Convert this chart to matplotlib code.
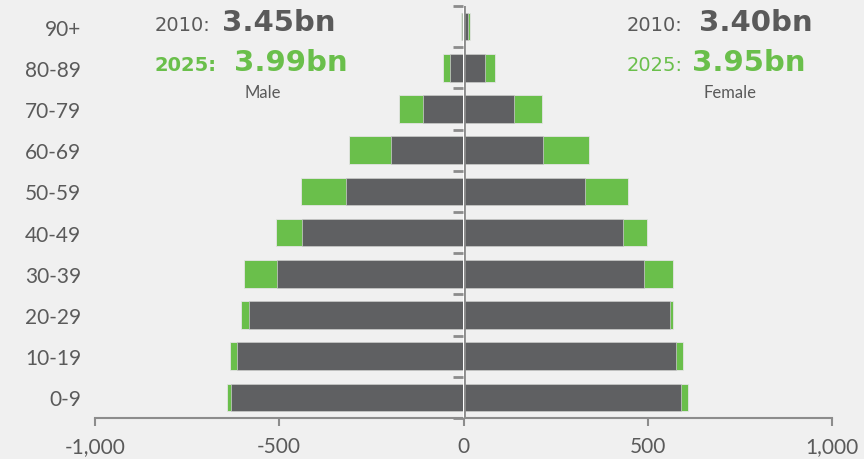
import numpy as np
import matplotlib.pyplot as plt
from matplotlib.ticker import FuncFormatter

# population by age band, millions
ages = ['0-9', '10-19', '20-29', '30-39', '40-49', '50-59', '60-69', '70-79', '80-89', '90+']
male_2010 = [630, 614, 583, 505, 438, 320, 198, 110, 36, 4]
male_2025 = [642, 634, 605, 596, 510, 442, 312, 174, 56, 8]
female_2010 = [589, 576, 561, 490, 433, 331, 217, 136, 59, 11]
female_2025 = [610, 595, 569, 568, 498, 446, 341, 212, 85, 18]
x_ticks = [-1000, -500, 0, 500, 1000]

DARK = '#5f6062'
GREEN = '#6abf4b'
GREY = '#8c8c8c'
BG = '#f0f0f0'
TXT = '#5a5a5a'

plt.rcParams['font.family'] = ['Lato', 'DejaVu Sans']

fig = plt.figure(figsize=(8.64, 4.6), dpi=100, facecolor=BG)
ax = fig.add_axes([95 / 864, 1 - 419 / 460, 737 / 864, 412 / 460])
ax.set_facecolor(BG)

y = np.arange(len(ages))
h = 0.67
ax.barh(y, -np.array(male_2025), height=h, color=GREEN, edgecolor='#e4e4e4', linewidth=0.6, zorder=2)
ax.barh(y, -np.array(male_2010), height=h, color=DARK, edgecolor='#cfcfcf', linewidth=0.5, zorder=3)
ax.barh(y, female_2025, height=h, color=GREEN, edgecolor='#e4e4e4', linewidth=0.6, zorder=2)
ax.barh(y, female_2010, height=h, color=DARK, edgecolor='#cfcfcf', linewidth=0.5, zorder=3)

ax.set_xlim(-1000, 1000)
ax.set_ylim(-0.5, len(ages) - 0.5)

ax.set_xticks(x_ticks)
ax.xaxis.set_major_formatter(FuncFormatter(lambda v, p: f'{int(v):,}'))
ax.tick_params(axis='x', colors=GREY, labelcolor=TXT, labelsize=15, length=6, width=1.5, pad=7)

ax.set_yticks(y)
ax.set_yticklabels(ages)
ax.tick_params(axis='y', length=0, labelcolor=TXT, labelsize=15, pad=10)

for s in ['top', 'right', 'left']:
    ax.spines[s].set_visible(False)
ax.spines['bottom'].set_color(GREY)
ax.spines['bottom'].set_linewidth(1.5)

# centre axis with ticks between age bands
ax.axvline(0, color=GREY, lw=2, zorder=5)
sec = ax.secondary_yaxis(0.5)
sec.set_yticks(np.arange(-0.5, len(ages), 1.0))
sec.set_yticklabels([])
sec.yaxis.set_ticks_position('left')
sec.tick_params(axis='y', direction='out', length=7, width=2, color=GREY)
sec.spines['left'].set_color(GREY)
sec.spines['left'].set_linewidth(2)
sec.spines['right'].set_visible(False)
sec.set_zorder(6)

# totals
def fx(px):
    return px / 864

def fy(px):
    return 1 - px / 460

big = dict(fontsize=21, fontweight='bold', family='DejaVu Sans', va='baseline')
small = dict(fontsize=14, family='DejaVu Sans', va='baseline')

fig.text(fx(155), fy(31), '2010:', color=TXT, **small)
fig.text(fx(222), fy(31), '3.45bn', color=TXT, **big)
fig.text(fx(155), fy(71), '2025:', color=GREEN, fontweight='bold', **small)
fig.text(fx(234), fy(71), '3.99bn', color=GREEN, **big)
fig.text(fx(263), fy(98), 'Male', color=TXT, fontsize=12, ha='center', va='baseline')

fig.text(fx(627), fy(31), '2010:', color=TXT, **small)
fig.text(fx(699), fy(31), '3.40bn', color=TXT, **big)
fig.text(fx(627), fy(71), '2025:', color=GREEN, **small)
fig.text(fx(692), fy(71), '3.95bn', color=GREEN, **big)
fig.text(fx(730), fy(98), 'Female', color=TXT, fontsize=12, ha='center', va='baseline')

fig.savefig('out.png', dpi=100, facecolor=BG)
